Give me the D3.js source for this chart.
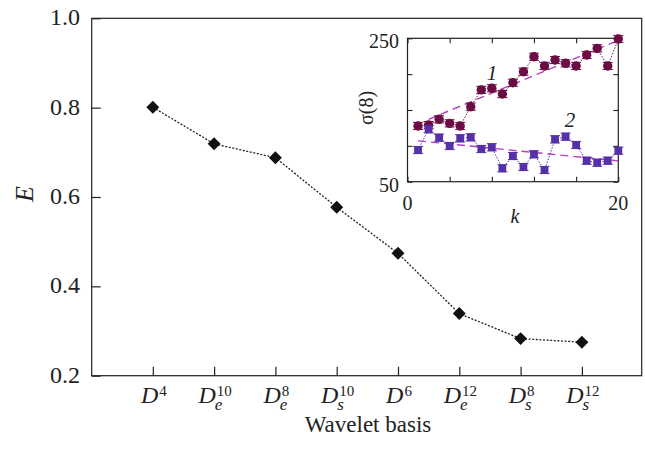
<!DOCTYPE html>
<html>
<head>
<meta charset="utf-8">
<script src="https://cdn.jsdelivr.net/npm/d3@7"></script>
<style>
  body { margin: 0; background: #fff; }
  svg { display: block; }
  text { font-family: "Liberation Serif", "DejaVu Serif", serif; fill: #222; }
</style>
</head>
<body>
<div id="chart"></div>
<script>
// main panel: efficiency E per wavelet basis
var bases = ["4", "e10", "e8", "s10", "6", "e12", "s8", "s12"];
var baseSup = ["4", "10", "8", "10", "6", "12", "8", "12"];
var baseSub = ["", "e", "e", "s", "", "e", "s", "s"];
var effValues = [0.801, 0.719, 0.688, 0.577, 0.474, 0.339, 0.283, 0.275];
var yTicks = [0.2, 0.4, 0.6, 0.8, 1.0];

// inset: sigma(8) vs k
var kValues = [1, 2, 3, 4, 5, 6, 7, 8, 9, 10, 11, 12, 13, 14, 15, 16, 17, 18, 19, 20];
var sigma1 = [127.7, 129, 137, 131.4, 127.7, 154.6, 178, 180.3, 172.3, 188, 203.4, 224.3, 211.4, 219.7, 215.1, 211.4, 226.7, 236, 211.4, 249];
var sigma2 = [94.2, 123.1, 111.4, 99.8, 110.5, 111.9, 95.6, 98, 68.7, 85.8, 70.5, 88.2, 66.3, 109.1, 112.8, 101.2, 79.3, 76.5, 79.3, 93.2];
var sigmaErr = 5;
var fit1 = [[2, 137], [20, 247]];
var fit2 = [[1, 107], [20, 79]];
var insetXTicks = [0, 4, 8, 12, 16, 20];
var insetYTicks = [50, 100, 150, 200, 250];

var svg = d3.select("#chart").append("svg")
    .attr("width", 645)
    .attr("height", 451);

// ---- main chart ----
var mLeft = 91.7, mRight = 641.7, mTop = 18.3, mBottom = 375.7;
var x = d3.scaleLinear().domain([0, 9]).range([91.5, 643.2]);
var y = d3.scaleLinear().domain([0.2, 1.0]).range([mBottom, mTop]);

svg.append("rect")
    .attr("x", mLeft).attr("y", mTop)
    .attr("width", mRight - mLeft).attr("height", mBottom - mTop)
    .attr("fill", "none").attr("stroke", "#222").attr("stroke-width", 1.2);

// left ticks (inside)
svg.append("g")
    .attr("transform", "translate(" + mLeft + ",0)")
    .call(d3.axisRight(y).tickValues(yTicks).tickSize(9).tickFormat(""))
    .call(g => g.select(".domain").remove())
    .call(g => g.selectAll("line").attr("stroke", "#222").attr("stroke-width", 1.2));

svg.append("g").selectAll("text")
    .data(yTicks)
    .enter().append("text")
    .attr("x", 80)
    .attr("y", d => y(d) + 7)
    .attr("text-anchor", "end")
    .style("font-size", "24px")
    .text(d => d.toFixed(1));

// bottom ticks (inside)
svg.append("g")
    .attr("transform", "translate(0," + mBottom + ")")
    .call(d3.axisTop(x).tickValues(d3.range(1, 9)).tickSize(9).tickFormat(""))
    .call(g => g.select(".domain").remove())
    .call(g => g.selectAll("line").attr("stroke", "#222").attr("stroke-width", 1.2));

// x tick labels D with super/subscripts
bases.forEach(function(b, i) {
    var g = svg.append("g");
    var cx = x(i + 1);
    var dText = g.append("text")
        .attr("y", 403)
        .style("font-size", "24px")
        .style("font-style", "italic")
        .text("D");
    var dw = dText.node().getComputedTextLength();
    var sup = g.append("text")
        .attr("y", 396)
        .style("font-size", "15px")
        .text(baseSup[i]);
    var sw = sup.node().getComputedTextLength();
    var subw = 0;
    var sub = null;
    if (baseSub[i]) {
        sub = g.append("text")
            .attr("y", 410)
            .style("font-size", "17px")
            .style("font-style", "italic")
            .text(baseSub[i]);
        subw = sub.node().getComputedTextLength();
    }
    var total = dw + 1 + Math.max(sw, subw);
    var x0 = cx - total / 2 + 1;
    dText.attr("x", x0);
    sup.attr("x", x0 + dw + 1);
    if (sub) sub.attr("x", x0 + dw - 1);
});

svg.append("text")
    .attr("x", 368)
    .attr("y", 432)
    .attr("text-anchor", "middle")
    .style("font-size", "23px")
    .text("Wavelet basis");

svg.append("text")
    .attr("transform", "translate(33,194) rotate(-90)")
    .attr("text-anchor", "middle")
    .style("font-size", "26px")
    .style("font-style", "italic")
    .text("E");

var mainLine = d3.line()
    .x((d, i) => x(i + 1))
    .y(d => y(d));

svg.append("path")
    .datum(effValues)
    .attr("d", mainLine)
    .attr("fill", "none")
    .attr("stroke", "#222")
    .attr("stroke-width", 1.3)
    .attr("stroke-dasharray", "2,1.6");

svg.append("g").selectAll("path")
    .data(effValues)
    .enter().append("path")
    .attr("d", d3.symbol().type(d3.symbolSquare).size(84))
    .attr("transform", (d, i) => "translate(" + x(i + 1) + "," + y(d) + ") rotate(45)")
    .attr("fill", "#111");

// ---- inset ----
var iLeft = 407.5, iRight = 618.3, iTop = 38.3, iBottom = 181.7;
var ix = d3.scaleLinear().domain([0, 20]).range([iLeft, iRight]);
var iy = d3.scaleLinear().domain([50, 250]).range([iBottom, iTop]);

var inset = svg.append("g");
inset.append("rect")
    .attr("x", iLeft).attr("y", iTop)
    .attr("width", iRight - iLeft).attr("height", iBottom - iTop)
    .attr("fill", "#fff").attr("stroke", "#222").attr("stroke-width", 1.2);

function insetTicks(sel) {
    sel.call(g => g.select(".domain").remove())
       .call(g => g.selectAll("line").attr("stroke", "#222").attr("stroke-width", 1.1));
}
inset.append("g").attr("transform", "translate(0," + iBottom + ")")
    .call(d3.axisTop(ix).tickValues(insetXTicks).tickSize(5).tickFormat("")).call(insetTicks);
inset.append("g").attr("transform", "translate(0," + iTop + ")")
    .call(d3.axisBottom(ix).tickValues(insetXTicks).tickSize(5).tickFormat("")).call(insetTicks);
inset.append("g").attr("transform", "translate(" + iLeft + ",0)")
    .call(d3.axisRight(iy).tickValues(insetYTicks).tickSize(5).tickFormat("")).call(insetTicks);
inset.append("g").attr("transform", "translate(" + iRight + ",0)")
    .call(d3.axisLeft(iy).tickValues(insetYTicks).tickSize(5).tickFormat("")).call(insetTicks);

inset.selectAll(".ylab")
    .data([50, 250])
    .enter().append("text")
    .attr("x", 399)
    .attr("y", d => iy(d) + 10)
    .attr("text-anchor", "end")
    .style("font-size", "20px")
    .text(d => d);

inset.selectAll(".xlab")
    .data([0, 20])
    .enter().append("text")
    .attr("x", d => ix(d))
    .attr("y", 210)
    .attr("text-anchor", "middle")
    .style("font-size", "20px")
    .text(d => d);

inset.append("text")
    .attr("x", 515).attr("y", 223)
    .attr("text-anchor", "middle")
    .style("font-size", "20px")
    .style("font-style", "italic")
    .text("k");

inset.append("text")
    .attr("transform", "translate(373,108) rotate(-90)")
    .attr("text-anchor", "middle")
    .style("font-size", "20px")
    .text("σ(8)");

var fitLine = d3.line().x(d => ix(d[0])).y(d => iy(d[1]));
[fit1, fit2].forEach(function(f) {
    inset.append("path")
        .datum(f)
        .attr("d", fitLine)
        .attr("fill", "none")
        .attr("stroke", "#b83cc0")
        .attr("stroke-width", 1.4)
        .attr("stroke-dasharray", "8,5");
});

var series = [
    {vals: sigma1, color: "#6c0c45", shape: "circle"},
    {vals: sigma2, color: "#5530a8", shape: "square"}
];

var ptLine = d3.line().x((d, i) => ix(kValues[i])).y(d => iy(d));

series.forEach(function(s) {
    inset.append("path")
        .datum(s.vals)
        .attr("d", ptLine)
        .attr("fill", "none")
        .attr("stroke", s.color)
        .attr("stroke-width", 1)
        .attr("stroke-dasharray", "1.5,1.5");

    var eb = inset.append("g").attr("stroke", s.color).attr("stroke-width", 1);
    s.vals.forEach(function(v, i) {
        var cx = ix(kValues[i]);
        eb.append("line").attr("x1", cx).attr("x2", cx)
            .attr("y1", iy(v - sigmaErr)).attr("y2", iy(v + sigmaErr));
        eb.append("line").attr("x1", cx - 5).attr("x2", cx + 5)
            .attr("y1", iy(v - sigmaErr)).attr("y2", iy(v - sigmaErr));
        eb.append("line").attr("x1", cx - 5).attr("x2", cx + 5)
            .attr("y1", iy(v + sigmaErr)).attr("y2", iy(v + sigmaErr));
    });

    if (s.shape === "circle") {
        inset.append("g").selectAll("circle")
            .data(s.vals)
            .enter().append("circle")
            .attr("cx", (d, i) => ix(kValues[i]))
            .attr("cy", d => iy(d))
            .attr("r", 4.7)
            .attr("fill", s.color);
    } else {
        inset.append("g").selectAll("rect")
            .data(s.vals)
            .enter().append("rect")
            .attr("x", (d, i) => ix(kValues[i]) - 3.9)
            .attr("y", d => iy(d) - 3.9)
            .attr("width", 7.8)
            .attr("height", 7.8)
            .attr("fill", s.color);
    }
});

inset.append("text")
    .attr("x", 492).attr("y", 80)
    .attr("text-anchor", "middle")
    .style("font-size", "21px")
    .style("font-style", "italic")
    .text("1");

inset.append("text")
    .attr("x", 570).attr("y", 127)
    .attr("text-anchor", "middle")
    .style("font-size", "21px")
    .style("font-style", "italic")
    .text("2");
</script>
</body>
</html>
